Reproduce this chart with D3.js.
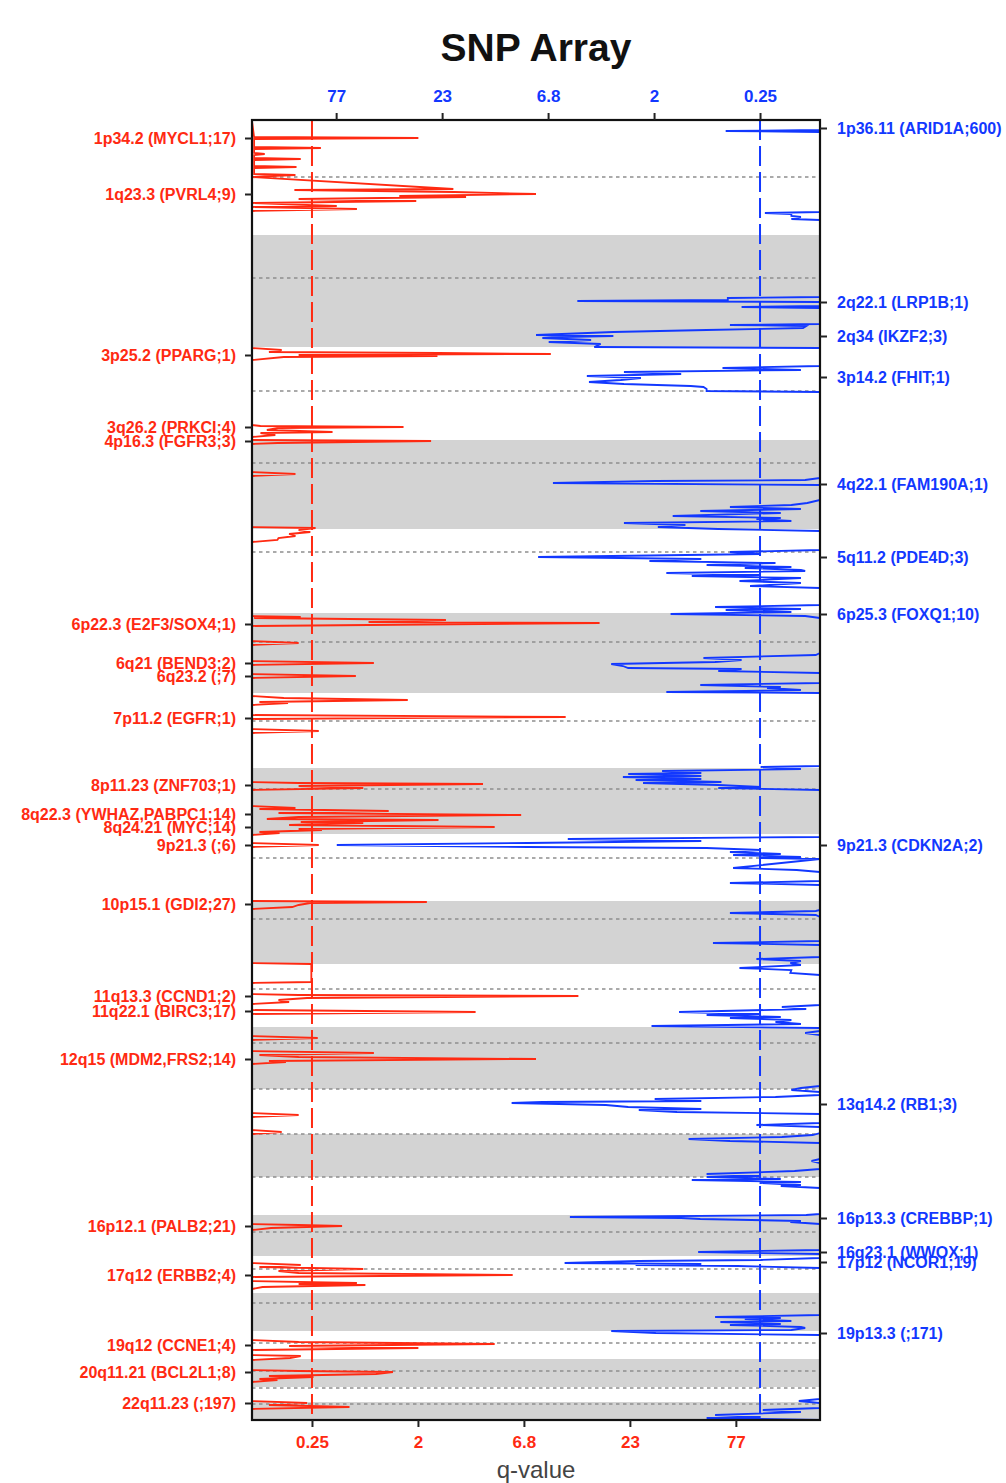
<!DOCTYPE html>
<html>
<head>
<meta charset="utf-8">
<script src="https://cdn.jsdelivr.net/npm/d3@7/dist/d3.min.js"></script>
<style>
  html, body { margin: 0; padding: 0; background: #fff; }
  svg { display: block; }
  text { font-family: "Liberation Sans", Arial, Helvetica, sans-serif; }
</style>
</head>
<body>
<div id="chart"></div>
<script>
// ---------------- DATA ----------------
// Genome coordinate (approx. Mb, cumulative) of chromosome starts, chr1..chr22
const chromStarts = [0, 230, 454, 640, 818, 986, 1146, 1296, 1428, 1562, 1688, 1814, 1938, 2028, 2114, 2190, 2272, 2346, 2422, 2478, 2534, 2564];
const genomeEnd = 2600;
const centromeres = [114, 316, 542, 686, 864, 1044, 1202, 1338, 1476, 1598, 1738, 1846, 1938, 2028, 2114, 2224, 2298, 2366, 2446, 2502, 2536, 2568];

// q-value axis
const tickValues = [0.576, 1.576, 2.576, 3.576, 4.576];
const tickLabels = ["0.25", "2", "6.8", "23", "77"];
const threshold = 0.576;
const scoreMin = 0.01;
const scoreMax = 5.37;

// Amplification trace [genome position, score]
const ampTrace = [
[0,0.01],[2,0.01],[34,0.03],[36,1.58],[38,0.03],[54,0.03],[56,0.66],[58,0.03],[66,0.03],[68,0.13],[70,0.03],
[76,0.03],[78,0.47],[80,0.03],[92,0.03],[94,0.43],[96,0.03],[108,0.03],[110,0.42],[114,0.01],[138,1.91],[140,0.41],
[144,1.92],[148,2.69],[152,1.40],[154,2.03],[158,0.45],[162,1.56],[166,0.01],[172,0.81],[174,0.01],[178,1.00],[182,0.01],
[454,0.01],[456,0.01],[460,0.29],[464,0.17],[466,1.77],[468,2.83],[470,0.45],[472,1.76],[474,0.31],[480,0.01],
[610,0.01],[612,0.09],[614,1.44],[616,0.26],[620,0.15],[624,0.77],[626,0.09],[630,0.23],[634,0.01],[640,0.01],
[642,1.70],[646,0.25],[648,0.01],[704,0.01],[708,0.42],[712,0.01],[814,0.01],[816,0.61],[820,0.45],[824,0.56],
[828,0.36],[832,0.42],[836,0.26],[840,0.25],[844,0.01],[992,0.01],[994,0.47],[996,0.03],[1000,1.84],[1004,1.11],
[1006,3.29],[1010,1.11],[1012,0.01],[1042,0.01],[1046,0.45],[1050,0.01],[1082,0.01],[1086,1.16],[1090,0.01],
[1108,0.01],[1112,0.99],[1116,0.01],[1152,0.01],[1156,0.31],[1160,1.48],[1164,0.08],[1166,0.35],[1170,0.01],
[1190,0.01],[1194,2.97],[1198,0.01],[1218,0.01],[1222,0.64],[1226,0.01],[1324,0.01],[1326,0.45],[1328,2.19],
[1332,0.45],[1336,1.06],[1340,0.01],[1372,0.01],[1376,0.42],[1378,0.08],[1382,1.30],[1386,0.26],[1390,2.55],
[1394,0.45],[1398,0.15],[1400,1.77],[1404,0.47],[1406,1.06],[1410,0.36],[1414,2.30],[1418,0.45],[1420,0.67],
[1424,0.08],[1426,0.27],[1430,0.01],[1446,0.01],[1450,0.64],[1454,0.01],[1562,0.01],[1564,1.66],[1566,0.56],
[1570,0.45],[1574,0.39],[1578,0.01],[1686,0.01],[1688,0.57],[1724,0.57],[1726,0.01],[1748,0.01],[1750,0.45],
[1752,3.09],[1756,0.53],[1760,0.26],[1764,0.36],[1768,0.01],[1780,0.01],[1784,2.12],[1788,0.01],[1832,0.01],
[1836,0.63],[1840,0.01],[1862,0.01],[1866,1.16],[1870,0.08],[1874,0.45],[1878,2.69],[1882,0.17],[1884,0.33],
[1888,0.01],[1986,0.01],[1990,0.45],[1994,0.01],[2020,0.01],[2024,0.29],[2028,0.01],[2208,0.01],[2210,0.45],
[2212,0.86],[2216,0.19],[2220,0.01],[2286,0.01],[2290,0.47],[2294,0.08],[2298,1.06],[2302,0.26],[2306,0.45],
[2310,2.47],[2314,0.01],[2322,0.01],[2326,1.00],[2328,0.45],[2330,1.08],[2334,0.11],[2338,0.01],[2440,0.01],
[2444,0.45],[2448,2.30],[2452,0.36],[2456,1.58],[2460,0.01],[2470,0.01],[2472,0.47],[2476,0.37],[2480,0.01],
[2500,0.01],[2502,0.45],[2504,1.34],[2508,1.18],[2512,0.17],[2514,0.59],[2518,0.08],[2520,0.25],[2524,0.01],
[2562,0.01],[2566,0.53],[2570,0.17],[2574,0.93],[2578,0.01],[2600,0.01]
];

// Deletion trace [genome position, score]
const delTrace = [
[0,0.01],[20,0.01],[22,0.90],[24,0.01],[184,0.01],[186,0.53],[188,0.28],[192,0.28],[194,0.19],[198,0.28],[200,0.01],
[354,0.01],[356,0.88],[360,0.88],[362,2.30],[364,0.01],[372,0.01],[374,0.75],[376,0.01],[408,0.01],[410,0.86],
[412,0.14],[416,0.17],[420,1.08],[424,1.96],[430,2.69],[432,1.96],[434,2.45],[436,2.63],[440,2.17],[444,2.57],
[448,2.08],[454,2.14],[456,0.01],[492,0.01],[496,0.93],[500,0.19],[504,1.86],[508,1.32],[512,2.21],[516,1.70],
[520,1.89],[524,2.19],[528,1.86],[532,1.23],[534,1.11],[538,1.08],[542,1.08],[544,0.01],[716,0.01],[720,0.15],
[722,1.56],[726,2.53],[730,0.01],[760,0.01],[766,0.13],[770,0.28],[774,0.86],[778,0.19],[782,1.14],[786,0.38],
[792,1.40],[796,0.38],[798,0.61],[802,0.28],[806,1.86],[810,1.28],[814,1.54],[818,0.97],[822,0.01],[860,0.01],
[864,0.86],[868,0.57],[874,2.67],[878,1.13],[882,1.62],[886,0.43],[890,1.08],[894,0.28],[896,0.72],[900,0.19],
[902,0.15],[906,1.46],[910,0.57],[912,1.22],[916,0.19],[922,0.77],[926,0.19],[932,0.67],[936,0.01],[970,0.01],
[974,1.00],[978,0.19],[980,0.90],[984,0.28],[988,1.42],[992,0.15],[996,0.01],[1066,0.01],[1070,0.05],[1076,1.11],
[1080,0.75],[1084,1.00],[1088,1.98],[1092,1.87],[1096,1.82],[1098,0.75],[1102,0.97],[1106,0.01],[1126,0.01],
[1130,1.14],[1134,0.38],[1136,0.51],[1140,0.19],[1144,1.46],[1146,0.01],[1292,0.01],[1294,0.57],[1298,0.19],
[1302,1.50],[1306,1.13],[1308,1.82],[1312,1.13],[1314,1.87],[1318,1.13],[1320,1.75],[1324,0.94],[1326,1.68],
[1330,0.97],[1334,0.57],[1336,0.97],[1340,0.01],[1434,0.01],[1438,2.39],[1442,1.13],[1446,2.77],[1450,4.57],
[1454,2.77],[1456,1.08],[1460,0.57],[1464,0.86],[1468,0.38],[1470,0.83],[1474,0.19],[1476,0.58],[1478,0.01],
[1496,0.83],[1500,0.23],[1504,0.01],[1522,0.01],[1526,0.86],[1530,0.01],[1580,0.01],[1582,0.05],[1586,0.86],
[1590,0.05],[1594,0.01],[1642,0.01],[1646,1.02],[1650,0.01],[1674,0.01],[1678,0.61],[1682,0.19],[1686,0.29],
[1690,0.19],[1696,0.77],[1700,0.28],[1706,0.29],[1710,0.01],[1770,0.01],[1774,0.37],[1778,0.14],[1784,1.34],
[1788,0.57],[1790,1.08],[1794,0.38],[1796,0.86],[1800,0.28],[1804,0.43],[1808,0.19],[1812,1.60],[1816,0.01],
[1822,0.01],[1826,0.15],[1830,0.01],[1932,0.01],[1936,0.19],[1940,0.28],[1944,0.01],[1950,0.01],[1954,0.43],
[1958,1.57],[1962,1.13],[1964,2.63],[1966,2.92],[1970,2.03],[1974,1.82],[1978,1.13],[1980,1.72],[1984,1.36],
[1988,0.01],[2006,0.01],[2010,0.61],[2014,0.01],[2026,0.01],[2030,0.08],[2034,0.37],[2038,1.25],[2042,0.86],
[2046,0.01],[2078,0.01],[2082,0.09],[2086,0.01],[2098,0.01],[2102,0.25],[2108,1.08],[2112,0.57],[2114,1.08],
[2118,0.38],[2120,1.22],[2124,0.19],[2126,0.58],[2130,0.19],[2132,0.38],[2136,0.01],[2188,0.01],[2190,0.14],
[2194,2.37],[2196,1.32],[2198,1.14],[2202,0.19],[2204,0.29],[2208,0.01],[2260,0.01],[2264,1.16],[2268,0.01],
[2276,0.01],[2280,0.57],[2282,1.72],[2286,2.42],[2288,1.13],[2290,1.75],[2292,0.79],[2296,0.01],[2390,0.01],
[2394,1.00],[2396,0.38],[2398,0.72],[2402,0.28],[2404,0.95],[2408,0.38],[2410,0.86],[2414,0.19],[2416,0.15],
[2420,0.28],[2422,1.98],[2426,1.56],[2430,0.01],[2558,0.01],[2562,0.21],[2566,0.01],[2576,0.01],[2580,0.55],
[2584,0.19],[2590,1.00],[2594,0.57],[2596,1.08],[2600,0.01]
];

// Peak labels
const ampLabels = ["1p34.2 (MYCL1;17)", "1q23.3 (PVRL4;9)", "3p25.2 (PPARG;1)", "3q26.2 (PRKCI;4)", "4p16.3 (FGFR3;3)",
  "6p22.3 (E2F3/SOX4;1)", "6q21 (BEND3;2)", "6q23.2 (;7)", "7p11.2 (EGFR;1)", "8p11.23 (ZNF703;1)",
  "8q22.3 (YWHAZ,PABPC1;14)", "8q24.21 (MYC;14)", "9p21.3 (;6)", "10p15.1 (GDI2;27)", "11q13.3 (CCND1;2)",
  "11q22.1 (BIRC3;17)", "12q15 (MDM2,FRS2;14)", "16p12.1 (PALB2;21)", "17q12 (ERBB2;4)", "19q12 (CCNE1;4)",
  "20q11.21 (BCL2L1;8)", "22q11.23 (;197)"];
const ampLabelPos = [36, 148, 470, 614, 642, 1008, 1086, 1112, 1196, 1330, 1388, 1414, 1450, 1568, 1752, 1782, 1878, 2212, 2310, 2450, 2504, 2566];

const delLabels = ["1p36.11 (ARID1A;600)", "2q22.1 (LRP1B;1)", "2q34 (IKZF2;3)", "3p14.2 (FHIT;1)", "4q22.1 (FAM190A;1)",
  "5q11.2 (PDE4D;3)", "6p25.3 (FOXQ1;10)", "9p21.3 (CDKN2A;2)", "13q14.2 (RB1;3)", "16p13.3 (CREBBP;1)",
  "16q23.1 (WWOX;1)", "17p12 (NCOR1;19)", "19p13.3 (;171)"];
const delLabelPos = [16, 364, 432, 514, 728, 874, 988, 1450, 1968, 2196, 2264, 2284, 2426];

// ---------------- DRAW ----------------
const W = 1006, H = 1483;
const M = { left: 252, right: 820, top: 120, bottom: 1420 };
const RED = "#ff2a12", BLUE = "#1238ff";

const svg = d3.select("#chart").append("svg").attr("width", W).attr("height", H);
svg.append("rect").attr("width", W).attr("height", H).attr("fill", "#fff");

const y = d3.scaleLinear().domain([0, genomeEnd]).range([M.top, M.bottom]);
const xAmp = d3.scaleLinear().domain([scoreMin, scoreMax]).range([M.left, M.right]);
const xDel = d3.scaleLinear().domain([scoreMin, scoreMax]).range([M.right, M.left]);

// chromosome bands (even chromosomes shaded)
const chromEnds = chromStarts.slice(1).concat([genomeEnd]);
svg.append("g").selectAll("rect")
  .data(chromStarts.map((s, i) => ({ s, e: chromEnds[i], i })).filter(d => d.i % 2 === 1))
  .join("rect")
  .attr("x", M.left).attr("width", M.right - M.left)
  .attr("y", d => y(d.s)).attr("height", d => y(d.e) - y(d.s))
  .attr("fill", "#d3d3d3");

// centromere lines
svg.append("g").selectAll("line").data(centromeres).join("line")
  .attr("x1", M.left).attr("x2", M.right)
  .attr("y1", d => y(d)).attr("y2", d => y(d))
  .attr("stroke", "#8f8f8f").attr("stroke-width", 1.6).attr("stroke-dasharray", "3.5,3.5");

// traces
svg.append("defs").append("clipPath").attr("id", "plotclip")
  .append("rect").attr("x", M.left).attr("y", M.top).attr("width", M.right - M.left).attr("height", M.bottom - M.top);

svg.append("path").datum(ampTrace)
  .attr("clip-path", "url(#plotclip)")
  .attr("fill", "none").attr("stroke", RED).attr("stroke-width", 1.8)
  .attr("d", d3.line().x(d => xAmp(d[1])).y(d => y(d[0])));

svg.append("path").datum(delTrace)
  .attr("clip-path", "url(#plotclip)")
  .attr("fill", "none").attr("stroke", BLUE).attr("stroke-width", 1.8)
  .attr("d", d3.line().x(d => xDel(d[1])).y(d => y(d[0])));

// significance thresholds
svg.append("line")
  .attr("x1", xAmp(threshold)).attr("x2", xAmp(threshold))
  .attr("y1", M.top).attr("y2", M.bottom)
  .attr("stroke", RED).attr("stroke-width", 2).attr("stroke-dasharray", "20,6");
svg.append("line")
  .attr("x1", xDel(threshold)).attr("x2", xDel(threshold))
  .attr("y1", M.top).attr("y2", M.bottom)
  .attr("stroke", BLUE).attr("stroke-width", 2).attr("stroke-dasharray", "20,6");

// frame
svg.append("rect")
  .attr("x", M.left).attr("y", M.top)
  .attr("width", M.right - M.left).attr("height", M.bottom - M.top)
  .attr("fill", "none").attr("stroke", "#111").attr("stroke-width", 2.2);

function styleAxis(g, color, size) {
  g.select(".domain").remove();
  g.selectAll(".tick line").attr("stroke", "#222").attr("stroke-width", 2);
  g.selectAll(".tick text")
    .attr("fill", color)
    .attr("font-weight", "bold")
    .attr("font-size", size)
    .attr("font-family", "'Liberation Sans', Arial, Helvetica, sans-serif");
}

// top axis (deletions)
svg.append("g").attr("transform", `translate(0,${M.top})`)
  .call(d3.axisTop(xDel).tickValues(tickValues).tickFormat((d, i) => tickLabels[i]).tickSize(7).tickPadding(11))
  .call(g => styleAxis(g, BLUE, 17));

// bottom axis (amplifications)
svg.append("g").attr("transform", `translate(0,${M.bottom})`)
  .call(d3.axisBottom(xAmp).tickValues(tickValues).tickFormat((d, i) => tickLabels[i]).tickSize(7).tickPadding(9))
  .call(g => styleAxis(g, RED, 17));

// left axis (amplification peaks)
svg.append("g").attr("transform", `translate(${M.left},0)`)
  .call(d3.axisLeft(y).tickValues(ampLabelPos).tickFormat((d, i) => ampLabels[i]).tickSize(7).tickPadding(9))
  .call(g => styleAxis(g, RED, 16));

// right axis (deletion peaks)
svg.append("g").attr("transform", `translate(${M.right},0)`)
  .call(d3.axisRight(y).tickValues(delLabelPos).tickFormat((d, i) => delLabels[i]).tickSize(7).tickPadding(10))
  .call(g => styleAxis(g, BLUE, 16));

// title & axis title
svg.append("text")
  .attr("x", (M.left + M.right) / 2).attr("y", 61)
  .attr("text-anchor", "middle")
  .attr("font-size", 39).attr("font-weight", "bold").attr("fill", "#111")
  .text("SNP Array");

svg.append("text")
  .attr("x", (M.left + M.right) / 2).attr("y", 1478)
  .attr("text-anchor", "middle")
  .attr("font-size", 24).attr("fill", "#444")
  .text("q-value");
</script>
</body>
</html>
